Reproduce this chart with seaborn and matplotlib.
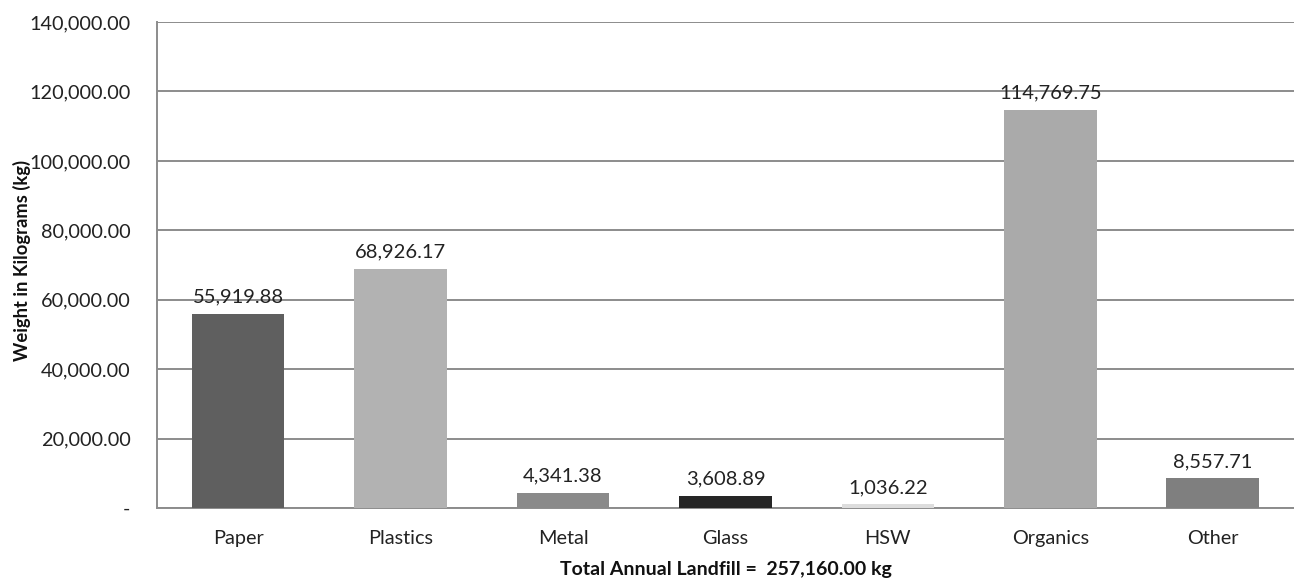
import numpy as np
import pandas as pd
import matplotlib
matplotlib.use("Agg")
import matplotlib.pyplot as plt
import seaborn as sns

# values
categories = ["Paper", "Plastics", "Metal", "Glass", "HSW", "Organics", "Other"]
weights = [55919.88, 68926.17, 4341.38, 3608.89, 1036.22, 114769.75, 8557.71]
bar_colors = ["#5f5f5f", "#b2b2b2", "#8a8a8a", "#262626", "#dddddd", "#aaaaaa", "#7f7f7f"]
yticks = [0, 20000, 40000, 60000, 80000, 100000, 120000, 140000]
total_label = "Total Annual Landfill =  257,160.00 kg"

df = pd.DataFrame({"Category": categories, "Weight": weights})

sns.set_theme(style="white")
plt.rcParams["font.family"] = ["Lato", "DejaVu Sans"]

fig = plt.figure(figsize=(12.94, 5.8), dpi=100)
ax = fig.add_axes([0.1213, 0.124, 0.8787, 0.838])

sns.barplot(data=df, x="Category", y="Weight", hue="Category", palette=bar_colors,
            legend=False, width=0.57, saturation=1, linewidth=0, ax=ax, zorder=3)

ax.set_ylim(0, 140000)
ax.set_xlim(-0.5, 6.5)
ax.set_yticks(yticks)
ax.set_yticklabels(["-"] + [f"{v:,.2f}" for v in yticks[1:]], fontsize=14.3, color="#222222")
ax.tick_params(axis="x", labelsize=14.3, colors="#222222", length=0, pad=16)
ax.tick_params(axis="y", length=0, pad=19)
ax.yaxis.grid(True, color="#8c8c8c", linewidth=1.4, zorder=0)
ax.set_axisbelow(True)

for s in ["top", "right"]:
    ax.spines[s].set_visible(False)
for s in ["left", "bottom"]:
    ax.spines[s].set_color("#8c8c8c")
    ax.spines[s].set_linewidth(1.4)

for i, v in enumerate(weights):
    ax.annotate(f"{v:,.2f}", (i, v), xytext=(0, 6), textcoords="offset points",
                ha="center", va="bottom", fontsize=14.5, color="#222222", zorder=4)

ax.set_xlabel(total_label, fontsize=14, fontweight="bold", color="#111111", labelpad=10)
ax.set_ylabel("Weight in Kilograms (kg)", fontsize=13.2, fontweight="bold", color="#111111")
ax.yaxis.set_label_coords(-0.111, 0.51)

fig.savefig("out.png", dpi=100, facecolor="white")
